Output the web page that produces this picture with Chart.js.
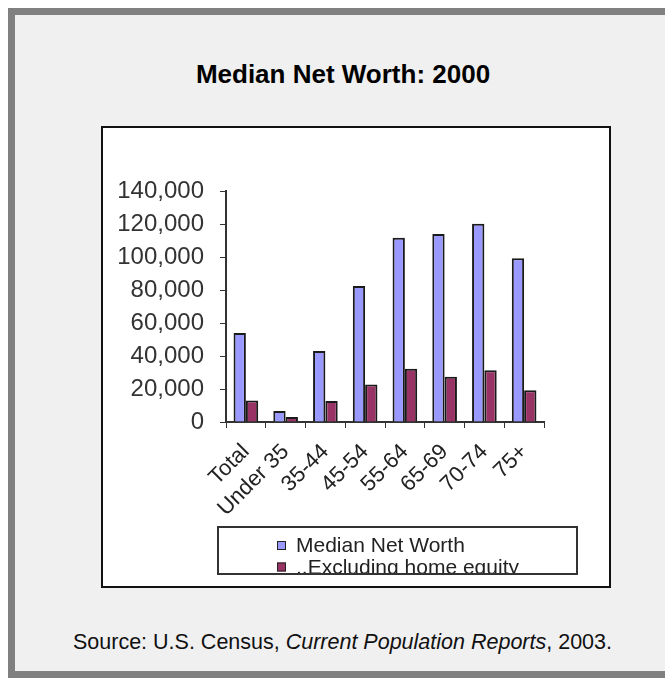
<!DOCTYPE html>
<html>
<head>
<meta charset="utf-8">
<script src="https://cdn.jsdelivr.net/npm/chart.js@4"></script>
<style>
  body { margin: 0; background: #fff; width: 665px; height: 681px; overflow: hidden; position: relative; font-family: Arial, "Liberation Sans", sans-serif; }
  #frame { position: absolute; left: 8px; top: 8px; width: 700px; height: 656px; border: 7px solid #808080; border-right: none; background: #f0f0f0; }
  #title { position: absolute; left: 0; top: 61px; width: 686px; text-align: center; font-weight: bold; font-size: 26px; line-height: 26px; color: #000; }
  #source { position: absolute; left: 0; top: 631px; width: 685px; text-align: center; font-size: 21.5px; line-height: 22px; color: #111; }
  #box { position: absolute; left: 101px; top: 126px; width: 506px; height: 458px; border: 2px solid #111; background: #fff; }
  #wrap { position: relative; width: 506px; height: 458px; }
</style>
</head>
<body>
<div id="frame"></div>
<div id="title">Median Net Worth: 2000</div>
<div id="box"><div id="wrap"><canvas id="myChart"></canvas></div></div>
<div id="source">Source: U.S. Census, <i>Current Population Reports</i>, 2003.</div>
<script>
const ageGroups = ['Total', 'Under 35', '35-44', '45-54', '55-64', '65-69', '70-74', '75+'];
const netWorth = [54000, 6700, 43000, 82400, 111700, 114000, 120200, 99200];
const exclHomeEquity = [13100, 3000, 12700, 22800, 32300, 27500, 31300, 19200];
const yTicks = [0, 20000, 40000, 60000, 80000, 100000, 120000, 140000];

// legend drawn as a boxed, stacked list like the original
const boxLegend = {
    id: 'boxLegend',
    afterDraw(chart) {
        const ctx = chart.ctx;
        const left = 115, top = 399, right = 474, bottom = 446;
        ctx.save();
        ctx.strokeStyle = '#333';
        ctx.lineWidth = 2;
        ctx.strokeRect(left, top, right - left, bottom - top);
        ctx.beginPath();
        ctx.rect(left + 1, top + 1, right - left - 2, bottom - top - 2);
        ctx.clip();
        ctx.font = '21px Arial, "Liberation Sans", sans-serif';
        ctx.textBaseline = 'middle';
        const rows = [417.5, 439];
        chart.data.datasets.forEach((ds, i) => {
            const y = rows[i];
            ctx.fillStyle = ds.backgroundColor;
            ctx.fillRect(174, y - 4.5, 9, 9);
            ctx.strokeStyle = '#222';
            ctx.lineWidth = 1;
            ctx.strokeRect(174.5, y - 4, 8, 8);
            ctx.fillStyle = '#222';
            ctx.fillText(ds.label, 193, y + 1);
        });
        ctx.restore();
    }
};

const config = {
    type: 'bar',
    data: {
        labels: ageGroups,
        datasets: [{
            label: 'Median Net Worth',
            data: netWorth,
            backgroundColor: '#9999ff',
            borderColor: '#1a1a1a',
            borderWidth: 2,
            categoryPercentage: 0.62,
            barPercentage: 1.0
        }, {
            label: '..Excluding home equity',
            data: exclHomeEquity,
            backgroundColor: '#993366',
            borderColor: '#1a1a1a',
            borderWidth: 2,
            categoryPercentage: 0.62,
            barPercentage: 1.0
        }]
    },
    options: {
        responsive: true,
        maintainAspectRatio: false,
        animation: false,
        layout: {
            padding: { left: 0, right: 65, top: 63, bottom: 0 }
        },
        plugins: {
            legend: { display: false },
            tooltip: { enabled: false }
        },
        scales: {
            x: {
                grid: { drawOnChartArea: false, drawTicks: true, tickLength: 6, color: '#333', offset: true },
                border: { display: true, color: '#333', width: 2 },
                ticks: {
                    autoSkip: false,
                    minRotation: 45, maxRotation: 45, padding: 11,
                    color: '#222',
                    font: { family: 'Arial, "Liberation Sans", sans-serif', size: 22 }
                },
                afterFit: s => { s.height = 164; }
            },
            y: {
                min: 0,
                max: 140000,
                afterBuildTicks: s => { s.ticks = yTicks.map(v => ({ value: v })); },
                grid: { drawOnChartArea: false, drawTicks: true, tickLength: 6, color: '#333' },
                border: { display: true, color: '#333', width: 2 },
                ticks: {
                    padding: 16,
                    color: '#333',
                    font: { family: 'Arial, "Liberation Sans", sans-serif', size: 24 },
                    callback: v => v.toLocaleString('en-US')
                },
                afterFit: s => { s.width = 123; }
            }
        }
    },
    plugins: [boxLegend]
};

new Chart(document.getElementById('myChart'), config);
</script>
</body>
</html>
